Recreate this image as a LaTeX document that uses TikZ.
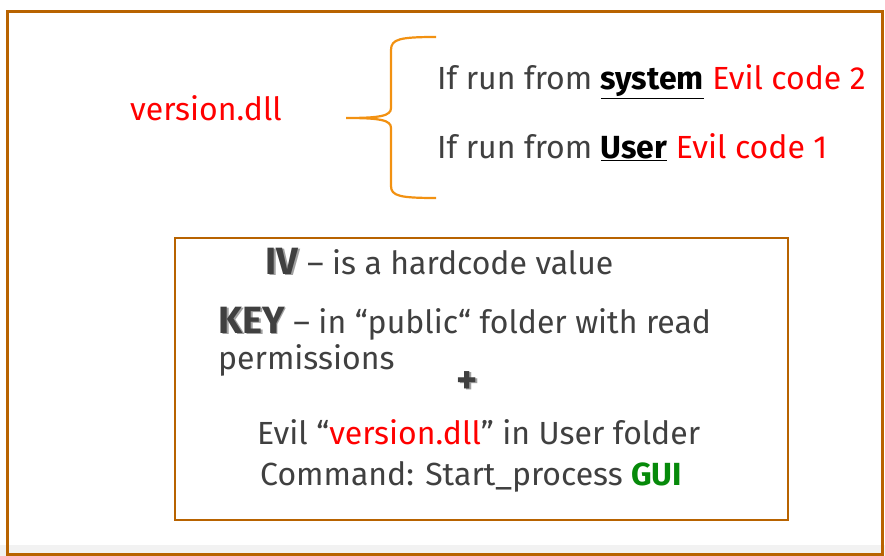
\documentclass[tikz,border=0pt]{standalone}
\usepackage{fontspec}
\setmainfont{Fira Sans}
\definecolor{boxc}{HTML}{B86300}
\definecolor{bracec}{HTML}{F29111}
\definecolor{txt}{HTML}{404040}
\definecolor{evil}{HTML}{FF0000}
\definecolor{guic}{HTML}{068A0A}
\definecolor{shad}{HTML}{A0A0A0}
\newcommand{\shtext}[1]{\makebox[0pt][l]{\hspace{1.8pt}\raisebox{-1.8pt}{\textcolor{shad}{#1}}}#1}
\newcommand{\bigbold}[1]{{\fontsize{38}{40}\selectfont\textbf{\shtext{#1}}}}
\begin{document}
\begin{tikzpicture}[x=1pt,y=-1pt,
  txtn/.style={anchor=west,inner sep=0pt,text=txt,font=\fontsize{32}{38}\selectfont},
  redn/.style={anchor=west,inner sep=0pt,text=evil,font=\fontsize{32}{38}\selectfont}]
\useasboundingbox (0,0) rectangle (885,556);
\fill[white] (0,0) rectangle (885,556);
\fill[black!5] (0,545) rectangle (885,556);
\draw[boxc,line width=3pt] (7,12) rectangle (882,554);
\draw[boxc,line width=2.5pt] (175,238) rectangle (788,520);
\coordinate (btop) at (436,37);
\coordinate (bbot) at (436,198);
\coordinate (btip) at (346,118);
\draw[bracec,line width=2.2pt] (btop) .. controls (400,37) and (391,39) .. (391,50) -- (391,108) .. controls (391,116) and (380,118) .. (btip)
  .. controls (380,118) and (391,120) .. (391,128) -- (391,186) .. controls (391,196) and (400,198) .. (bbot);
\node[redn] (ver) at (130,108) {version.dll};
\node[txtn] (l1) at (437,82) {If run from \textcolor{black}{\underline{\textbf{system}}} \textcolor{evil}{Evil code 2}};
\node[txtn] (l2) at (437,147) {If run from \textcolor{black}{\underline{\textbf{User}}} \textcolor{evil}{Evil code 1}};
\node[txtn,anchor=base west] (iv) at (265,274) {\bigbold{IV} – is a hardcode value};
\node[txtn,anchor=base west] (key) at (218,333) {\bigbold{KEY} – in “public“ folder with read};
\node[txtn] (perm) at (218,360) {permissions};
\node[txtn,font=\fontsize{40}{44}\selectfont] (plus) at (456,383) {\textbf{\shtext{+}}};
\node[txtn] (evl) at (257,432) {Evil “\textcolor{evil}{version.dll}” in User folder};
\node[txtn] (cmd) at (260,477) {Command: Start\_process \textcolor{guic}{\textbf{GUI}}};
\end{tikzpicture}
\end{document}
